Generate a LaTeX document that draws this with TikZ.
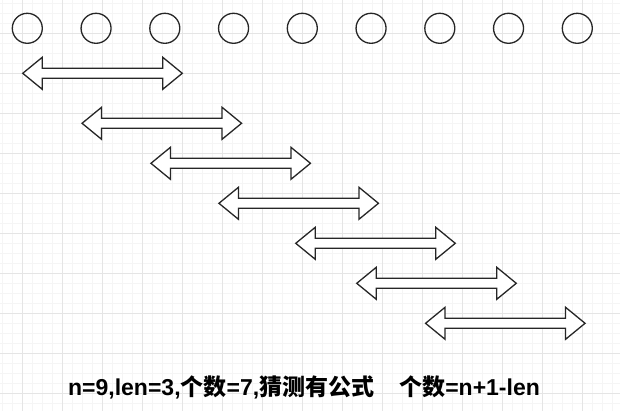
\documentclass[tikz,border=0pt]{standalone}
\usepackage{fontspec}
\setmainfont{Liberation Sans}
\newfontfamily\cjk{Noto Sans CJK SC}
\tikzset{
  minorgrid/.style={draw=black!4, line width=0.8pt},
  majorgrid/.style={draw=black!10, line width=0.8pt},
  ring/.style={circle, draw=black!85, line width=1.3pt, minimum size=30pt, inner sep=0pt},
  outline/.style={draw=black!85, line width=1.3pt, line join=miter, fill=white},
  label/.style={font=\bfseries\fontsize{23}{27}\selectfont, inner sep=0pt, anchor=base},
  pics/dbl/.style={code={
    \path[outline] (-79.75,0) -- (-60.25,-16) -- (-60.25,-5) -- (60.25,-5) -- (60.25,-16)
      -- (79.75,0) -- (60.25,16) -- (60.25,5) -- (-60.25,5) -- (-60.25,16) -- cycle;
    \coordinate (-c) at (0,0);
  }}
}
\begin{document}
\begin{tikzpicture}[x=1pt,y=-1pt]
\useasboundingbox (0,0) rectangle (620,411);
\fill[white] (0,0) rectangle (620,411);
\foreach \i in {0,...,61} {\draw[minorgrid] (2.7+10*\i,0) -- (2.7+10*\i,411);}
\foreach \i in {0,...,41} {\draw[minorgrid] (0,3.3+10*\i) -- (620,3.3+10*\i);}
\foreach \i in {0,...,15} {\draw[majorgrid] (22.7+40*\i,0) -- (22.7+40*\i,411);}
\foreach \i in {0,...,9} {\draw[majorgrid] (0,33.3+40*\i) -- (620,33.3+40*\i);}
\foreach \i in {1,...,9} {\node[ring] (c\i) at (27.3+68.75*\i-68.75,28.3) {};}
\pic (a1) at (102.5,73.3) {dbl};
\pic (a2) at (161.8,123.3) {dbl};
\pic (a3) at (230.7,163.3) {dbl};
\pic (a4) at (298.7,203.3) {dbl};
\pic (a5) at (375.5,243.3) {dbl};
\pic (a6) at (436.5,283.3) {dbl};
\pic (a7) at (505.3,323.3) {dbl};
\node[label] (t) at (304,395.3) {n=9,len=3,{\cjk 个数}=7,{\cjk 猜测有公式}\hspace{25pt}{\cjk 个数}=n+1-len};
\end{tikzpicture}
\end{document}
